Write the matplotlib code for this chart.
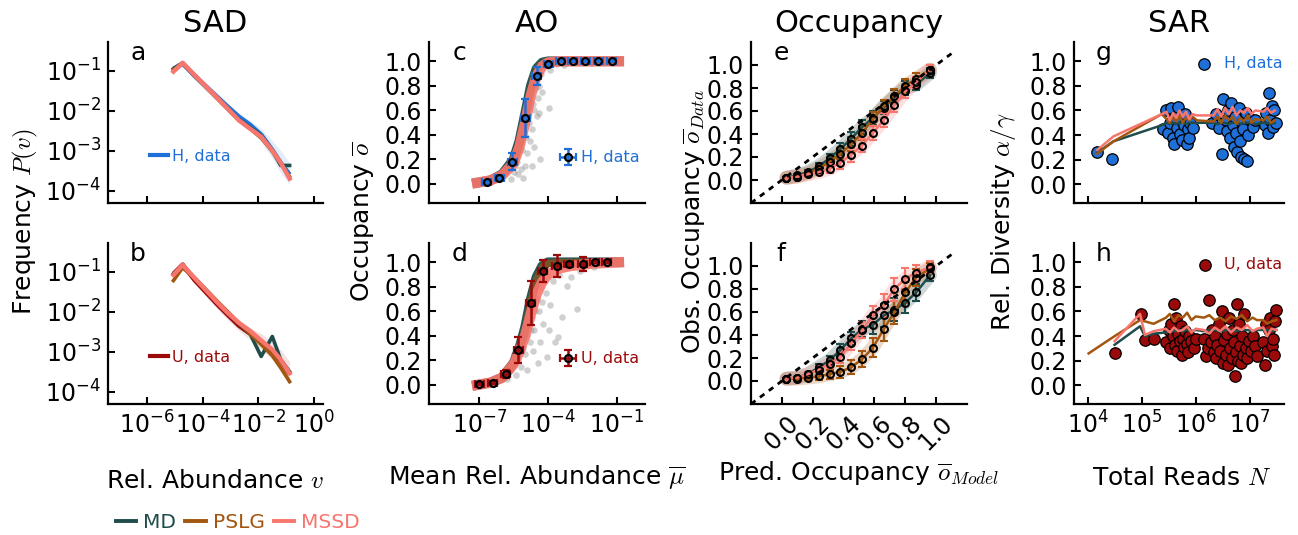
import numpy as np
import matplotlib
matplotlib.use("Agg")
import matplotlib.pyplot as plt
from matplotlib.lines import Line2D

plt.rcParams['font.family'] = ['DejaVu Sans']
plt.rcParams['mathtext.fontset'] = 'cm'
plt.rcParams['axes.linewidth'] = 1.6

# ---------------- colours ----------------
C_MD = '#1e4d4b'
C_PSLG = '#a3560f'
C_MSSD = '#f7766e'
C_H = '#1f6fd8'
C_U = '#9b0a0a'

# ---------------- data: SAD (log10 values) ----------------
logv_sad = [-5.05, -4.72, -4.3, -3.9, -3.5, -3.1, -2.7, -2.3, -1.9, -1.5, -1.2, -0.88]
H_a = [-0.95, -0.82, -1.12, -1.38, -1.64, -1.90, -2.15, -2.35, -2.60, -2.98, -3.30, -3.60]
H_a_hi = [-0.88, -0.74, -1.02, -1.28, -1.55, -1.82, -2.05, -2.25, -2.45, -2.75, -3.00, -3.30]
H_a_lo = [-1.05, -0.90, -1.22, -1.50, -1.76, -2.02, -2.30, -2.50, -2.78, -3.20, -3.55, -3.85]
MD_a = [-0.95, -0.80, -1.10, -1.38, -1.66, -1.95, -2.22, -2.42, -2.62, -3.00, -3.37, -3.37]
PSLG_a = [-0.97, -0.82, -1.12, -1.40, -1.68, -1.96, -2.24, -2.45, -2.68, -3.02, -3.32, -3.65]
MSSD_a = [-1.02, -0.80, -1.10, -1.38, -1.66, -1.95, -2.24, -2.45, -2.65, -3.00, -3.30, -3.70]

U_b = [-1.05, -0.82, -1.20, -1.50, -1.80, -2.08, -2.35, -2.55, -2.75, -2.98, -3.22, -3.55]
U_b_hi = [-0.95, -0.74, -1.08, -1.38, -1.68, -1.95, -2.22, -2.40, -2.55, -2.75, -2.95, -3.25]
U_b_lo = [-1.15, -0.92, -1.30, -1.60, -1.92, -2.20, -2.48, -2.70, -2.95, -3.20, -3.50, -3.80]
MD_b = [-1.05, -0.85, -1.15, -1.45, -1.75, -2.03, -2.30, -2.55, -3.12, -2.62, -3.20, -3.50]
PSLG_b = [-1.22, -0.90, -1.15, -1.43, -1.72, -2.00, -2.28, -2.55, -2.82, -3.10, -3.40, -3.75]
MSSD_b = [-1.08, -0.83, -1.15, -1.45, -1.75, -2.03, -2.28, -2.48, -2.72, -2.95, -3.20, -3.54]

# ---------------- data: AO ----------------
logmu_model = [-7.1, -6.5, -6.0, -5.5, -5.25, -5.0, -4.75, -4.5, -4.25, -4.0, -3.5, -3.0, -2.0, -0.9]
MD_c = [0.01, 0.03, 0.08, 0.20, 0.35, 0.57, 0.80, 0.94, 0.99, 1.0, 1.0, 1.0, 1.0, 1.0]
PSLG_c = [0.01, 0.03, 0.08, 0.19, 0.33, 0.54, 0.77, 0.92, 0.98, 1.0, 1.0, 1.0, 1.0, 1.0]
MSSD_c = [0.01, 0.03, 0.07, 0.17, 0.30, 0.50, 0.72, 0.88, 0.96, 0.99, 1.0, 1.0, 1.0, 1.0]
MD_d = [0.0, 0.02, 0.06, 0.18, 0.30, 0.47, 0.70, 0.88, 0.97, 1.0, 1.0, 1.0, 1.0, 1.0]
PSLG_d = [0.0, 0.02, 0.06, 0.17, 0.29, 0.45, 0.68, 0.86, 0.96, 0.99, 1.0, 1.0, 1.0, 1.0]
MSSD_d = [0.0, 0.02, 0.06, 0.17, 0.27, 0.40, 0.58, 0.74, 0.84, 0.90, 0.95, 0.97, 0.99, 1.0]

H_bin_logmu = [-6.68, -6.13, -5.56, -5.0, -4.49, -3.99, -3.45, -2.92, -2.37, -1.80, -1.22]
H_bin_occ = [0.013, 0.05, 0.18, 0.54, 0.88, 0.976, 1.0, 1.0, 1.0, 1.0, 1.0]
H_bin_err = [0.01, 0.02, 0.07, 0.155, 0.07, 0.02, 0.01, 0.01, 0.01, 0.01, 0.01]
U_bin_logmu = [-7.0, -6.42, -5.85, -5.3, -4.76, -4.23, -3.62, -3.10, -2.48, -1.96, -1.44]
U_bin_occ = [0.006, 0.02, 0.09, 0.285, 0.67, 0.93, 0.97, 0.985, 0.985, 1.0, 1.0]
U_bin_err = [0.01, 0.01, 0.03, 0.105, 0.18, 0.09, 0.09, 0.02, 0.06, 0.01, 0.01]
bin_xerr = 0.2

grey_c_logmu = [-5.6, -5.5, -5.3, -5.2, -5.1, -5.0, -4.9, -4.8, -4.7, -4.7, -4.6, -4.6, -4.55, -4.5,
                -4.45, -4.4, -4.35, -4.3, -4.25, -4.2, -4.1, -3.94, -3.9, -3.8, -3.6, -3.3, -5.35, -4.95,
                -4.85, -4.65, -4.52, -4.42, -4.38, -5.15, -5.45]
grey_c_occ = [0.04, 0.10, 0.08, 0.12, 0.05, 0.15, 0.25, 0.35, 0.45, 0.15, 0.30, 0.60, 0.85, 0.55,
              0.70, 0.80, 0.20, 0.90, 0.75, 0.95, 0.97, 0.62, 0.93, 1.0, 0.98, 0.97, 0.18, 0.38,
              0.50, 0.65, 0.78, 0.88, 0.58, 0.28, 0.15]
grey_d_logmu = [-5.8, -5.6, -5.5, -5.4, -5.3, -5.2, -5.1, -5.0, -4.9, -4.9, -4.8, -4.7, -4.65, -4.6,
                -4.5, -4.45, -4.4, -4.35, -4.3, -4.2, -4.1, -4.06, -4.0, -3.95, -3.9, -3.8, -3.7,
                -3.55, -3.5, -3.4, -3.3, -3.18, -3.0, -2.9, -2.75, -2.6, -2.3, -2.0,
                -4.75, -4.55, -4.25, -5.05, -4.15]
grey_d_occ = [0.05, 0.12, 0.25, 0.08, 0.20, 0.15, 0.30, 0.25, 0.40, 0.12, 0.35, 0.55, 0.28, 0.45,
              0.70, 0.18, 0.60, 0.35, 0.80, 0.50, 0.75, 0.23, 0.90, 0.45, 0.65, 0.85, 0.35,
              0.39, 0.90, 0.55, 0.95, 0.81, 0.88, 0.97, 0.62, 0.93, 0.98, 0.96,
              0.45, 0.60, 0.68, 0.38, 0.85]

# ---------------- data: Occupancy ----------------
pred_occ = [0.03, 0.10, 0.17, 0.24, 0.31, 0.38, 0.45, 0.52, 0.59, 0.66, 0.73, 0.80, 0.87, 0.96]
MD_e = [0.02, 0.04, 0.07, 0.12, 0.19, 0.27, 0.36, 0.46, 0.54, 0.63, 0.72, 0.80, 0.83, 0.93]
PSLG_e = [0.02, 0.03, 0.06, 0.10, 0.16, 0.23, 0.31, 0.41, 0.53, 0.64, 0.73, 0.82, 0.88, 0.96]
MSSD_e = [0.02, 0.03, 0.05, 0.07, 0.10, 0.15, 0.22, 0.30, 0.41, 0.52, 0.65, 0.77, 0.85, 0.96]
err_e = [0.01, 0.01, 0.02, 0.03, 0.04, 0.05, 0.06, 0.06, 0.06, 0.06, 0.06, 0.06, 0.05, 0.04]
MD_f = [0.02, 0.03, 0.06, 0.12, 0.18, 0.27, 0.37, 0.45, 0.49, 0.57, 0.62, 0.68, 0.77, 0.92]
PSLG_f = [0.02, 0.02, 0.03, 0.04, 0.06, 0.08, 0.12, 0.19, 0.29, 0.45, 0.60, 0.77, 0.90, 0.98]
MSSD_f = [0.02, 0.03, 0.06, 0.10, 0.15, 0.21, 0.33, 0.44, 0.57, 0.66, 0.80, 0.89, 0.94, 0.99]
err_f = [0.01, 0.01, 0.02, 0.03, 0.04, 0.05, 0.06, 0.07, 0.08, 0.10, 0.10, 0.09, 0.07, 0.05]
diag = [-0.2, 1.1]

# ---------------- data: SAR ----------------
g_logN = [4.18, 4.48, 5.37, 5.46, 5.52, 5.58, 5.64, 5.70, 5.76, 5.82, 5.88, 5.94, 6.02, 6.33, 6.40,
          6.47, 6.54, 6.61, 6.68, 6.75, 6.82, 6.89, 6.96, 7.03, 7.10, 7.25, 7.32, 7.39, 7.46]
MD_g = [0.26, 0.35, 0.48, 0.50, 0.49, 0.50, 0.49, 0.50, 0.50, 0.49, 0.50, 0.50, 0.50, 0.50, 0.49,
        0.50, 0.50, 0.49, 0.50, 0.50, 0.49, 0.50, 0.50, 0.50, 0.49, 0.50, 0.50, 0.49, 0.50]
PSLG_g = [0.25, 0.35, 0.57, 0.53, 0.50, 0.55, 0.51, 0.56, 0.50, 0.54, 0.52, 0.55, 0.52, 0.51, 0.55,
          0.50, 0.56, 0.52, 0.55, 0.49, 0.54, 0.51, 0.56, 0.50, 0.53, 0.52, 0.55, 0.50, 0.52]
MSSD_g = [0.28, 0.39, 0.57, 0.59, 0.52, 0.58, 0.54, 0.60, 0.55, 0.59, 0.53, 0.57, 0.56, 0.56, 0.61,
          0.55, 0.62, 0.57, 0.63, 0.56, 0.60, 0.58, 0.62, 0.57, 0.60, 0.59, 0.62, 0.58, 0.60]
H_logN = [4.18, 4.46, 5.40, 5.45, 5.48, 5.52, 5.55, 5.57, 5.60, 5.62, 5.65, 5.68, 5.70, 5.72, 5.75,
          5.78, 5.80, 5.83, 5.86, 5.88, 5.90, 5.95, 6.30, 6.38, 6.42, 6.48, 6.50, 6.55, 6.58, 6.60,
          6.63, 6.65, 6.68, 6.70, 6.72, 6.75, 6.77, 6.80, 6.82, 6.84, 6.86, 6.88, 6.90, 6.92, 6.95,
          6.97, 7.00, 7.05, 7.10, 7.28, 7.30, 7.33, 7.36, 7.38, 7.40, 7.42, 7.45, 7.48]
H_div = [0.26, 0.21, 0.45, 0.60, 0.42, 0.50, 0.62, 0.38, 0.33, 0.55, 0.46, 0.63, 0.41, 0.52, 0.36,
         0.48, 0.57, 0.33, 0.45, 0.38, 0.50, 0.46, 0.50, 0.57, 0.46, 0.25, 0.69, 0.52, 0.43, 0.60,
         0.38, 0.66, 0.48, 0.30, 0.55, 0.42, 0.26, 0.62, 0.35, 0.22, 0.50, 0.45, 0.21, 0.58, 0.19,
         0.40, 0.53, 0.47, 0.52, 0.48, 0.58, 0.42, 0.74, 0.52, 0.64, 0.47, 0.60, 0.50]

h_logN = [4.02, 4.50, 4.97, 5.06, 5.22, 5.45, 5.52, 5.60, 5.68, 5.76, 5.84, 5.92, 6.00, 6.15,
          6.25, 6.35, 6.45, 6.55, 6.65, 6.75, 6.85, 6.95, 7.05, 7.13, 7.25, 7.32, 7.40, 7.49]
MD_h = [np.nan, 0.33, 0.48, 0.40, 0.42, 0.43, 0.44, 0.44, 0.45, 0.44, 0.45, 0.44, 0.45, 0.44,
        0.45, 0.45, 0.44, 0.45, 0.45, 0.44, 0.45, 0.45, 0.44, 0.45, 0.45, 0.45, 0.44, 0.45]
PSLG_h = [0.26, 0.40, 0.53, 0.52, 0.50, 0.55, 0.58, 0.52, 0.57, 0.55, 0.59, 0.53, 0.56, 0.55,
          0.57, 0.53, 0.55, 0.52, 0.56, 0.54, 0.57, 0.52, 0.55, 0.53, 0.53, 0.50, 0.52, 0.53]
MSSD_h = [np.nan, 0.36, 0.58, 0.41, 0.44, 0.46, 0.43, 0.47, 0.44, 0.45, 0.48, 0.43, 0.46, 0.45,
          0.42, 0.47, 0.44, 0.48, 0.43, 0.47, 0.45, 0.49, 0.44, 0.46, 0.47, 0.40, 0.46, 0.45]
U_logN = [4.50, 4.99, 5.06, 5.22, 5.45, 5.50, 5.52, 5.55, 5.58, 5.60, 5.62, 5.64, 5.66, 5.68, 5.70,
          5.72, 5.74, 5.76, 5.78, 5.80, 5.83, 5.86, 5.88, 5.92, 5.96, 6.00, 6.15, 6.18, 6.22, 6.25,
          6.28, 6.30, 6.33, 6.36, 6.38, 6.40, 6.43, 6.45, 6.48, 6.50, 6.52, 6.55, 6.57, 6.60, 6.62,
          6.64, 6.66, 6.68, 6.70, 6.72, 6.74, 6.76, 6.78, 6.80, 6.82, 6.84, 6.86, 6.88, 6.90, 6.92,
          6.95, 6.98, 7.02, 7.06, 7.10, 7.13, 7.25, 7.27, 7.30, 7.32, 7.35, 7.37, 7.40, 7.42, 7.45,
          7.47, 7.49]
U_div = [0.26, 0.58, 0.37, 0.38, 0.35, 0.45, 0.30, 0.50, 0.40, 0.66, 0.33, 0.55, 0.28, 0.42, 0.36,
         0.48, 0.25, 0.38, 0.31, 0.44, 0.34, 0.27, 0.40, 0.36, 0.30, 0.38, 0.38, 0.24, 0.30, 0.69,
         0.35, 0.45, 0.27, 0.40, 0.22, 0.33, 0.50, 0.28, 0.60, 0.18, 0.37, 0.25, 0.42, 0.17, 0.55,
         0.30, 0.22, 0.45, 0.35, 0.08, 0.27, 0.66, 0.20, 0.50, 0.32, 0.18, 0.40, 0.25, 0.58, 0.30,
         0.22, 0.36, 0.28, 0.40, 0.32, 0.24, 0.35, 0.17, 0.50, 0.28, 0.45, 0.55, 0.32, 0.38, 0.25,
         0.52, 0.61]

# ---------------- figure ----------------
W, H = 1298, 535
fig = plt.figure(figsize=(W / 100, H / 100), dpi=100)

TICK_FS = 17
LAB_FS = 18


def ax_px(l, t, r, b):
    return fig.add_axes([l / W, 1 - b / H, (r - l) / W, (b - t) / H])


def style(ax):
    for s in ('top', 'right'):
        ax.spines[s].set_visible(False)
    ax.tick_params(direction='in', length=5, width=1.5, labelsize=TICK_FS, pad=5)
    ax.tick_params(which='minor', length=0)


axa = ax_px(108, 42, 323, 203)
axb = ax_px(108, 243, 323, 404)
axc = ax_px(429, 42, 645, 203)
axd = ax_px(429, 243, 645, 404)
axe = ax_px(751, 42, 967, 203)
axf = ax_px(751, 243, 967, 404)
axg = ax_px(1074, 42, 1284, 203)
axh = ax_px(1074, 243, 1284, 404)

p10 = lambda a: 10.0 ** np.asarray(a, dtype=float)

# ---- SAD ----
for ax, mean, hi, lo, md, ps, ms, col, lab in [
        (axa, H_a, H_a_hi, H_a_lo, MD_a, PSLG_a, MSSD_a, C_H, 'H, data'),
        (axb, U_b, U_b_hi, U_b_lo, MD_b, PSLG_b, MSSD_b, C_U, 'U, data')]:
    style(ax)
    x = p10(logv_sad)
    ax.fill_between(x, p10(lo), p10(hi), color=col, alpha=0.12, lw=0)
    ax.plot(x, p10(mean), color=col, lw=3.2, label=lab, solid_capstyle='butt')
    ax.plot(x, p10(md), color=C_MD, lw=2.6)
    ax.plot(x, p10(ps), color=C_PSLG, lw=2.6)
    ax.plot(x, p10(ms), color=C_MSSD, lw=3.2)
    ax.set_xscale('log')
    ax.set_yscale('log')
    ax.set_xlim(10 ** -7.4, 10 ** 0.32)
    ax.set_ylim(10 ** -4.31, 10 ** -0.28)
    ax.set_xticks([1e-6, 1e-4, 1e-2, 1e0])
    ax.set_yticks([1e-4, 1e-3, 1e-2, 1e-1])
    ax.minorticks_off()
    ax.legend([Line2D([], [], color=col, lw=3)], [lab], loc='center left',
              bbox_to_anchor=(0.13, 0.29), frameon=False, fontsize=11.5,
              handlelength=1.1, handletextpad=0.25, labelcolor=col)
axa.tick_params(labelbottom=False)

# ---- AO ----
for ax, md, ps, ms, bx, by, be, gx, gy, col, lab in [
        (axc, MD_c, PSLG_c, MSSD_c, H_bin_logmu, H_bin_occ, H_bin_err, grey_c_logmu, grey_c_occ, C_H, 'H, data'),
        (axd, MD_d, PSLG_d, MSSD_d, U_bin_logmu, U_bin_occ, U_bin_err, grey_d_logmu, grey_d_occ, C_U, 'U, data')]:
    style(ax)
    ax.scatter(p10(gx), gy, s=22, color='#8a8a8a', alpha=0.4, lw=0, zorder=1)
    xm = p10(logmu_model)
    ax.plot(xm, md, color=C_MD, lw=7, alpha=0.95, zorder=2)
    ax.plot(xm, ps, color=C_PSLG, lw=5, alpha=0.6, zorder=2)
    ax.plot(xm, ms, color=C_MSSD, lw=7.5, alpha=0.9, zorder=3)
    bxv = p10(bx)
    xerr = [bxv - p10(np.asarray(bx) - bin_xerr), p10(np.asarray(bx) + bin_xerr) - bxv]
    eb = ax.errorbar(bxv, by, yerr=be, xerr=xerr, fmt='o', ms=5, mfc='none', mec='black', mew=1.6,
                     ecolor=col, elinewidth=1.8, capsize=3, capthick=1.5, zorder=4, label=lab)
    ax.set_xscale('log')
    ax.set_xlim(10 ** -9.2, 10 ** 0.24)
    ax.set_ylim(-0.155, 1.157)
    ax.set_xticks([1e-7, 1e-4, 1e-1])
    ax.minorticks_off()
    ax.set_yticks([0, 0.2, 0.4, 0.6, 0.8, 1.0])
    ax.legend([eb], [lab], loc='center right', bbox_to_anchor=(1.04, 0.28), frameon=False,
              fontsize=11.5, handlelength=1.0, handletextpad=0.3, labelcolor=col)
axc.tick_params(labelbottom=False)

# ---- Occupancy ----
for ax, md, ps, ms, err in [(axe, MD_e, PSLG_e, MSSD_e, err_e), (axf, MD_f, PSLG_f, MSSD_f, err_f)]:
    style(ax)
    ax.plot(diag, diag, ls=(0, (2, 2)), color='black', lw=2, zorder=5)
    for vals, c in [(md, C_MD), (ps, C_PSLG), (ms, C_MSSD)]:
        ax.plot(pred_occ, vals, color=c, lw=10, alpha=0.22, zorder=1, solid_capstyle='round')
    for vals, c in [(md, C_MD), (ps, C_PSLG), (ms, C_MSSD)]:
        ax.errorbar(pred_occ, vals, yerr=err, fmt='-o', color=c, lw=1.8, ms=5, mfc='none', mec='black',
                    mew=1.5, ecolor=c, elinewidth=1.6, capsize=3, capthick=1.4, zorder=3)
    ax.set_xlim(-0.2, 1.2)
    ax.set_ylim(-0.2, 1.2)
    ax.set_xticks([0, 0.2, 0.4, 0.6, 0.8, 1.0])
    ax.set_yticks([0, 0.2, 0.4, 0.6, 0.8, 1.0])
axe.tick_params(labelbottom=False)
axf.set_xticks([0, 0.2, 0.4, 0.6, 0.8, 1.0])
axf.set_xticklabels(['0.0', '0.2', '0.4', '0.6', '0.8', '1.0'], rotation=45)

# ---- SAR ----
for ax, xN, md, ps, ms, dN, dv, col, lab in [
        (axg, g_logN, MD_g, PSLG_g, MSSD_g, H_logN, H_div, C_H, 'H, data'),
        (axh, h_logN, MD_h, PSLG_h, MSSD_h, U_logN, U_div, C_U, 'U, data')]:
    style(ax)
    ax.scatter(p10(dN), dv, s=68, color=col, edgecolor='black', lw=0.9, zorder=2, label=lab)
    x = p10(xN)
    ax.plot(x, md, color=C_MD, lw=1.8, zorder=3)
    ax.plot(x, ps, color=C_PSLG, lw=1.8, zorder=3)
    ax.plot(x, ms, color=C_MSSD, lw=1.8, zorder=3)
    ax.set_xscale('log')
    ax.set_xlim(10 ** 3.75, 10 ** 7.63)
    ax.set_ylim(-0.15, 1.155)
    ax.set_xticks([1e4, 1e5, 1e6, 1e7])
    ax.minorticks_off()
    ax.set_yticks([0, 0.2, 0.4, 0.6, 0.8, 1.0])
    ax.legend(loc='upper right', bbox_to_anchor=(1.06, 1.0), frameon=False, fontsize=11.5,
              handletextpad=0.2, markerscale=1.0, labelcolor=col, scatterpoints=1)
axg.tick_params(labelbottom=False)

# ---- panel letters ----
for ax, letter in [(axa, 'a'), (axb, 'b'), (axc, 'c'), (axd, 'd'),
                   (axe, 'e'), (axf, 'f'), (axg, 'g'), (axh, 'h')]:
    ax.text(0.14, 0.93, letter, transform=ax.transAxes, fontsize=18, va='center', ha='center')

# ---- titles ----
for xc, t in [(215, 'SAD'), (537, 'AO'), (859, 'Occupancy'), (1179, 'SAR')]:
    fig.text(xc / W, 1 - 24 / H, t, fontsize=22, ha='center', va='center')

# ---- axis labels ----
for xc, t in [(25, r'Frequency $P(v)$'), (362, r'Occupancy $\overline{o}$'),
              (693, r'Obs. Occupancy $\overline{o}_{Data}$'), (1003, r'Rel. Diversity $\alpha/\gamma$')]:
    fig.text(xc / W, 1 - 222 / H, t, fontsize=LAB_FS, rotation=90, ha='center', va='center')
for xc, yc, t in [(215, 481, r'Rel. Abundance $v$'), (537, 478, r'Mean Rel. Abundance $\overline{\mu}$'),
                  (859, 473, r'Pred. Occupancy $\overline{o}_{Model}$'), (1182, 478, r'Total Reads $N$')]:
    fig.text(xc / W, 1 - yc / H, t, fontsize=LAB_FS, ha='center', va='center')

# ---- model legend ----
handles = [Line2D([], [], color=C_MD, lw=2.8), Line2D([], [], color=C_PSLG, lw=2.8),
           Line2D([], [], color=C_MSSD, lw=2.8)]
fig.legend(handles, ['MD', 'PSLG', 'MSSD'], loc='center left', bbox_to_anchor=(98 / W, 1 - 523 / H),
           ncol=3, frameon=False, fontsize=14.5, handlelength=1.0, handletextpad=0.35,
           columnspacing=0.45, labelcolor='linecolor')

fig.savefig('out.png', dpi=100)
